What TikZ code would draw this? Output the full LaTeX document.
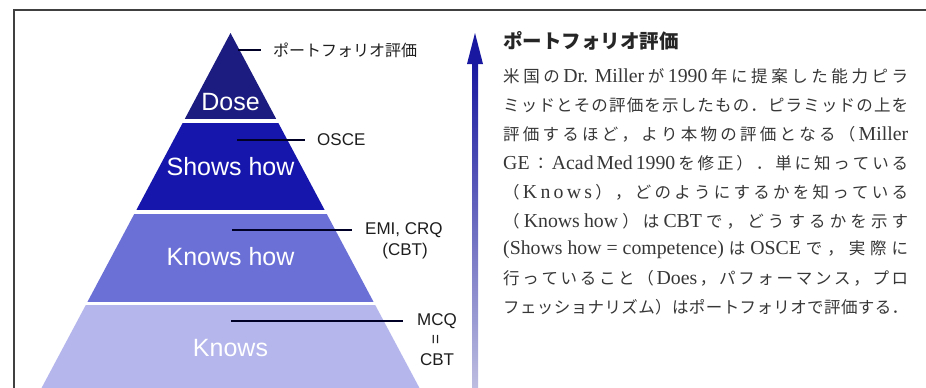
\documentclass[tikz,border=0pt]{standalone}
\usepackage{fontspec}
\setmainfont{Liberation Sans}
\newfontfamily\cjk{Noto Sans CJK JP}
\newfontfamily\lser[Scale=1.2]{Liberation Serif}
\def\jlend{\jlend}
\def\jlendtest{\jlend}
\def\jlgo#1{\def\jltmp{#1}\ifx\jltmp\jlendtest\else{#1}\hfil\expandafter\jlgo\fi}
\newcommand\jl[1]{\makebox[405pt][s]{\jlgo#1\jlend\unskip}}
\definecolor{cDose}{RGB}{28,28,128}
\definecolor{cShows}{RGB}{22,22,172}
\definecolor{cKH}{RGB}{106,112,214}
\definecolor{cKn}{RGB}{180,182,236}
\definecolor{cText}{RGB}{55,55,55}
\definecolor{cLab}{RGB}{30,30,30}
\definecolor{cArrTop}{RGB}{24,24,160}
\definecolor{cArrBot}{RGB}{190,190,225}
\tikzset{
  bandlabel/.style={text=white,inner sep=0pt,font=\fontsize{25}{30}\selectfont},
  sidelabel/.style={text=cLab,inner sep=0pt,font=\fontsize{17}{20}\selectfont},
  leader/.style={line width=1.8pt,draw=black!85!blue},
  bodyline/.style={anchor=west,inner sep=0pt,text=cText,font=\cjk\fontsize{16.5}{20}\selectfont},
  gap/.style={draw=white,line width=3.6pt},
}
\begin{document}
\begin{tikzpicture}[x=1pt,y=-1pt]
\useasboundingbox (0,0) rectangle (926,388);
\fill[white] (0,0) rectangle (926,388);
% frame
\draw[line width=1.5pt,black!75] (14,389) -- (14,10) -- (927,10);
% pyramid bands
\fill[cDose] (230.5,33) -- (277.3,121) -- (183.7,121) -- cycle;
\fill[cShows] (183.7,121) -- (277.3,121) -- (325.7,212) -- (135.3,212) -- cycle;
\fill[cKH] (135.3,212) -- (325.7,212) -- (374.4,303.5) -- (86.6,303.5) -- cycle;
\fill[cKn] (86.6,303.5) -- (374.4,303.5) -- (420,389) -- (41,389) -- cycle;
\draw[gap] (170,121) -- (290,121);
\draw[gap] (120,212) -- (340,212);
\draw[gap] (70,303.5) -- (390,303.5);
% band labels
\node[bandlabel] (dose) at (230.5,102) {Dose};
\node[bandlabel] (shows) at (230.5,167) {Shows how};
\node[bandlabel] (knowshow) at (230.5,257) {Knows how};
\node[bandlabel] (knows) at (230.5,348) {Knows};
% side labels and leaders
\node[sidelabel,anchor=west,font=\cjk\fontsize{16}{20}\selectfont] (pf) at (273,50) {ポートフォリオ評価};
\node[sidelabel,anchor=west] (osce) at (317,140) {OSCE};
\node[sidelabel,anchor=west] (emi) at (365,230) {EMI, CRQ};
\node[sidelabel] (cbta) at (405,251) {(CBT)};
\node[sidelabel] (mcq) at (437,321) {MCQ};
\node[sidelabel,rotate=90] (eq) at (437,340) {=};
\node[sidelabel] (cbtb) at (437,360) {CBT};
\coordinate (l1a) at (238,50);  \coordinate (l1b) at (261,50);
\coordinate (l2a) at (237,140); \coordinate (l2b) at (305,140);
\coordinate (l3a) at (232,230); \coordinate (l3b) at (352,230);
\coordinate (l4a) at (231,321); \coordinate (l4b) at (403,321);
\draw[leader] (l1a) -- (l1b);
\draw[leader] (l2a) -- (l2b);
\draw[leader] (l3a) -- (l3b);
\draw[leader] (l4a) -- (l4b);
% arrow
\coordinate (arrT) at (475,33);
\coordinate (arrB) at (475,389);
\shade[top color=cArrTop,bottom color=cArrBot] (472,62) rectangle (478,389);
\fill[cArrTop] (arrT) -- (483,64) -- (467,64) -- cycle;
% right text
\node[anchor=west,inner sep=0pt,text=black!85,font=\cjk\bfseries\fontsize{19.5}{22}\selectfont] (title) at (503,41) {ポートフォリオ評価};
\node[bodyline] (t1) at (503,76.5) {\jl{米国の{\lser Dr. Miller}が{\lser 1990}年に提案した能力ピラ}};
\node[bodyline] (t2) at (503,105.4) {\jl{ミッドとその評価を示したもの．ピラミッドの上を}};
\node[bodyline] (t3) at (503,134.3) {\jl{評価するほど，より本物の評価となる（{\lser Miller}}};
\node[bodyline] (t4) at (503,163.2) {\jl{{\lser GE}：{\lser Acad}{\lser Med}{\lser 1990}を修正）．単に知っている}};
\node[bodyline] (t5) at (503,192.1) {\jl{（{\lser K}{\lser n}{\lser o}{\lser w}{\lser s}），どのようにするかを知っている}};
\node[bodyline] (t6) at (503,221) {\jl{（{\lser Knows}{\lser how}）は{\lser CBT}で，どうするかを示す}};
\node[bodyline] (t7) at (503,249.9) {\jl{{\lser (Shows how = competence)}は{\lser OSCE}で，実際に}};
\node[bodyline] (t8) at (503,278.8) {\jl{行っていること（{\lser Does}，パフォーマンス，プロ}};
\node[bodyline] (t9) at (503,307.7) {\jl{フェッショナリズム）はポートフォリオで評価する．}};
\end{tikzpicture}
\end{document}
